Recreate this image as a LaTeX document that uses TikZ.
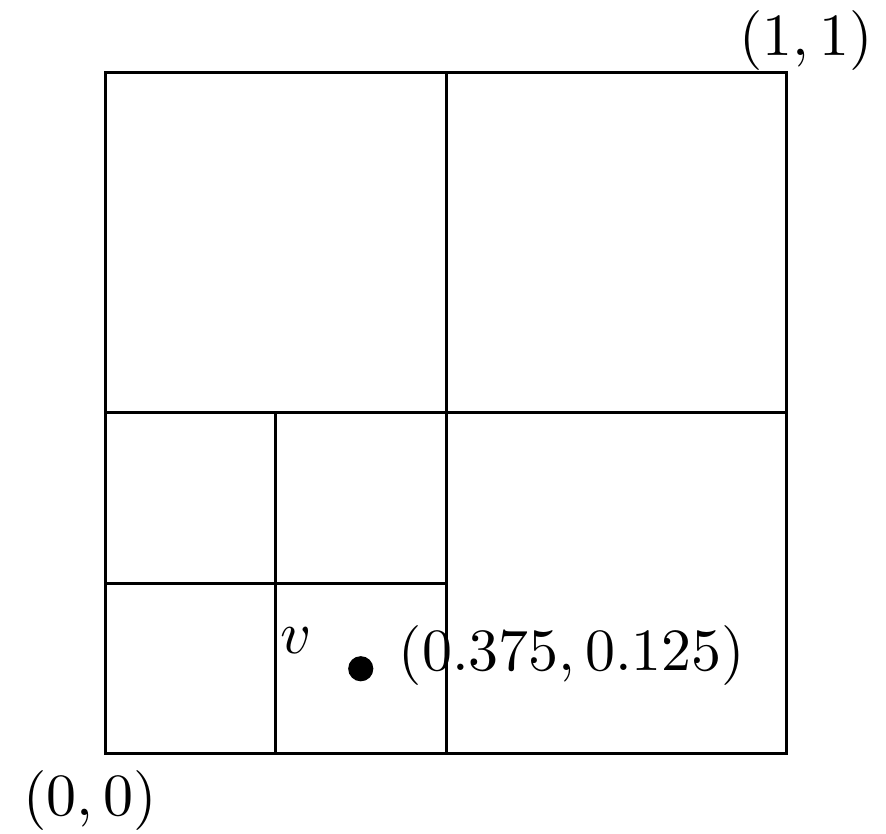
\documentclass[tikz,border=0pt]{standalone}
\usetikzlibrary{positioning}

\begin{document}
\begin{tikzpicture}[x=4cm, y=4cm, line width=0.5pt]
  \useasboundingbox (-0.154,-0.1173) rectangle (1.1452,1.1056);
  % cells of the quadtree
  \draw (0,0) rectangle (1,1);
  \draw (0.5,0) -- (0.5,1);
  \draw (0,0.5) -- (1,0.5);
  \draw (0.25,0) -- (0.25,0.5);
  \draw (0,0.25) -- (0.5,0.25);
  % point and labels
  \coordinate (v) at (0.375,0.125);
  \fill (v) circle (2.1pt);
  \node (vname) at (0.28,0.1657) {$v$};
  \node (vpos) at (0.6848,0.1437) {$(0.375, 0.125)$};
  \node (origin) at (-0.022,-0.0689) {$(0,0)$};
  \node (corner) at (1.0279,1.0455) {$(1,1)$};
\end{tikzpicture}
\end{document}
